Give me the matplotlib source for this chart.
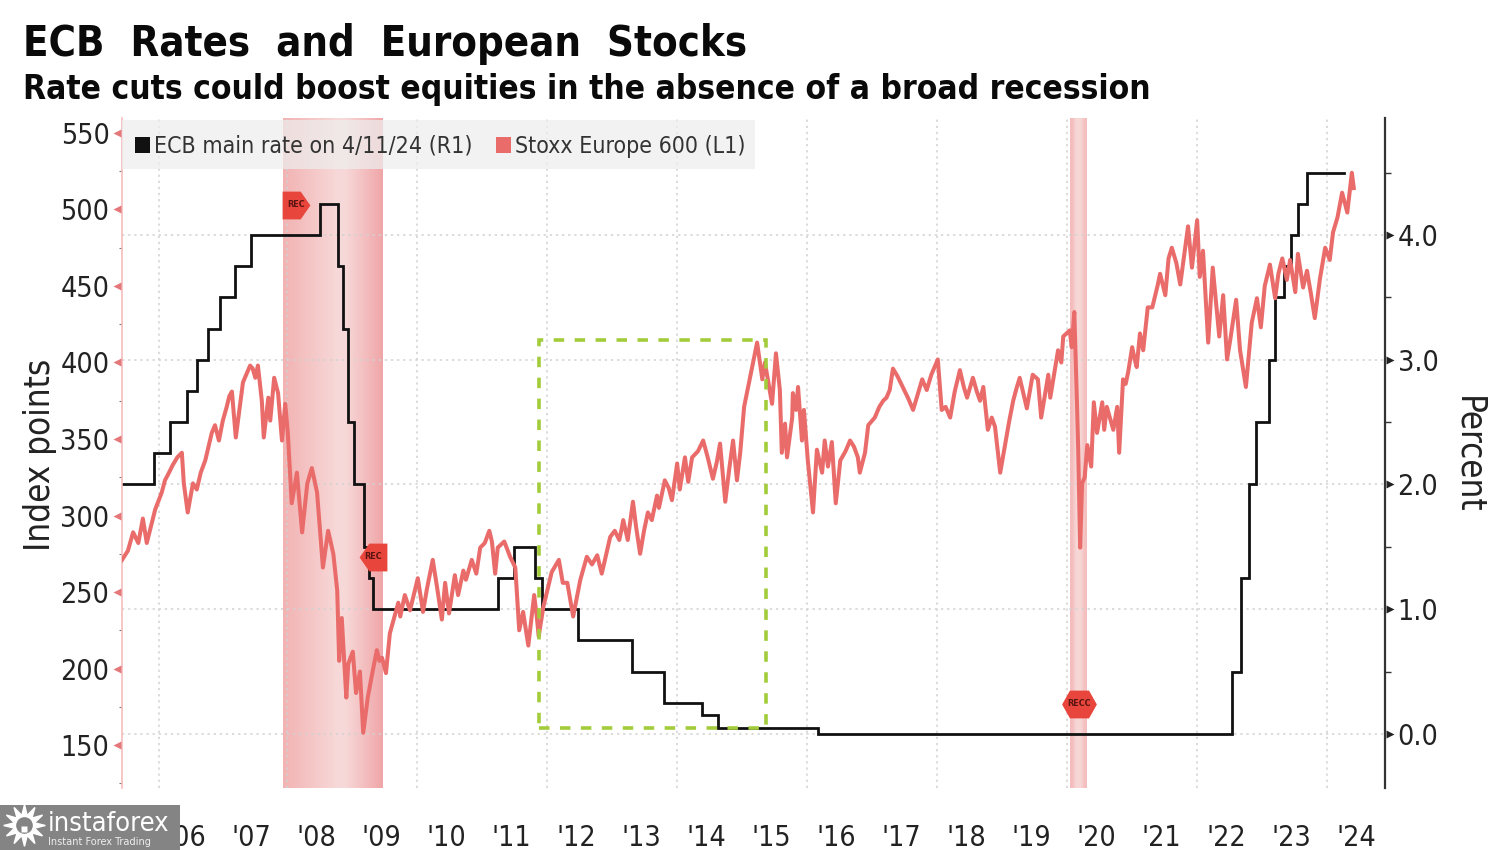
import numpy as np
import matplotlib
matplotlib.use('Agg')
import matplotlib.pyplot as plt
from matplotlib.lines import Line2D
from matplotlib.patches import Rectangle
from matplotlib.transforms import offset_copy

# ---------- data ----------
stoxx_years = [
    2005.47, 2005.56, 2005.64, 2005.72, 2005.79, 2005.85, 2005.98, 2006.08, 2006.13, 2006.25,
    2006.39, 2006.42, 2006.48, 2006.56, 2006.62, 2006.75, 2006.85, 2006.90, 2006.96, 2007.08,
    2007.16, 2007.22, 2007.33, 2007.44, 2007.52, 2007.56, 2007.62, 2007.65, 2007.72, 2007.75,
    2007.81, 2007.87, 2007.93, 2007.98, 2008.02, 2008.08, 2008.16, 2008.24, 2008.32, 2008.39,
    2008.47, 2008.56, 2008.64, 2008.72, 2008.78, 2008.81, 2008.85, 2008.92, 2008.95, 2009.02,
    2009.07, 2009.13, 2009.18, 2009.25, 2009.39, 2009.47, 2009.53, 2009.59, 2009.72, 2009.75,
    2009.82, 2009.90, 2010.02, 2010.10, 2010.25, 2010.39, 2010.44, 2010.50, 2010.59, 2010.64,
    2010.72, 2010.76, 2010.85, 2010.92, 2010.98, 2011.12, 2011.21, 2011.25, 2011.35, 2011.44,
    2011.52, 2011.58, 2011.64, 2011.72, 2011.81, 2011.85, 2011.88, 2011.95, 2012.08, 2012.19,
    2012.25, 2012.32, 2012.41, 2012.52, 2012.62, 2012.78, 2012.85, 2012.98, 2013.12, 2013.18,
    2013.25, 2013.33, 2013.44, 2013.56, 2013.62, 2013.70, 2013.73, 2013.82, 2013.93, 2014.01,
    2014.05, 2014.13, 2014.18, 2014.24, 2014.41, 2014.56, 2014.67, 2014.75, 2014.87, 2014.93,
    2014.98, 2015.04, 2015.13, 2015.24, 2015.32, 2015.36, 2015.47, 2015.53, 2015.59, 2015.62,
    2015.67, 2015.70, 2015.78, 2015.79, 2015.84, 2015.87, 2015.93, 2015.96, 2016.02, 2016.10,
    2016.16, 2016.24, 2016.28, 2016.33, 2016.39, 2016.45, 2016.52, 2016.67, 2016.79, 2016.82,
    2016.90, 2016.95, 2017.05, 2017.18, 2017.28, 2017.33, 2017.48, 2017.64, 2017.78, 2017.85,
    2018.02, 2018.08, 2018.21, 2018.36, 2018.47, 2018.56, 2018.67, 2018.72, 2018.79, 2018.90,
    2018.98, 2019.18, 2019.28, 2019.39, 2019.48, 2019.56, 2019.61, 2019.72, 2019.75, 2019.82,
    2019.87, 2019.92, 2019.95, 2020.05, 2020.08, 2020.12, 2020.16, 2020.18, 2020.21, 2020.24,
    2020.28, 2020.32, 2020.38, 2020.42, 2020.47, 2020.55, 2020.58, 2020.62, 2020.72, 2020.78,
    2020.81, 2020.87, 2020.95, 2021.01, 2021.08, 2021.13, 2021.18, 2021.25, 2021.36, 2021.44,
    2021.52, 2021.62, 2021.75, 2021.87, 2021.93, 2022.01, 2022.05, 2022.10, 2022.18, 2022.25,
    2022.35, 2022.41, 2022.47, 2022.52, 2022.61, 2022.67, 2022.76, 2022.85, 2022.93, 2022.99,
    2023.13, 2023.21, 2023.32, 2023.39, 2023.44, 2023.52, 2023.56, 2023.64, 2023.70, 2023.82,
    2023.98, 2024.05, 2024.10, 2024.24, 2024.32, 2024.39, 2024.42,
]
stoxx_vals = [
    271, 277, 289, 282, 298, 282, 304, 315, 323, 333,
    341, 321, 302, 321, 317, 336, 354, 359, 349, 371,
    381, 351, 387, 398, 390, 398, 375, 351, 377, 362,
    390, 380, 349, 373, 354, 308, 328, 289, 321, 331,
    315, 266, 290, 275, 251, 205, 233, 181, 203, 211,
    184, 198, 158, 181, 212, 207, 197, 223, 243, 234,
    248, 238, 259, 237, 271, 232, 256, 236, 261, 248,
    264, 258, 271, 262, 279, 290, 262, 279, 283, 273,
    266, 225, 237, 215, 248, 234, 221, 240, 263, 271,
    256, 256, 234, 258, 273, 274, 262, 286, 284, 297,
    284, 309, 275, 302, 297, 313, 305, 323, 310, 334,
    317, 338, 322, 338, 349, 324, 347, 309, 349, 323,
    341, 371, 390, 413, 389, 400, 373, 406, 382, 341,
    360, 338, 364, 380, 369, 384, 349, 369, 336, 302,
    343, 328, 349, 332, 348, 308, 336, 349, 338, 328,
    341, 359, 364, 375, 382, 396, 384, 369, 389, 382,
    402, 369, 364, 395, 377, 390, 375, 384, 356, 358,
    328, 375, 390, 370, 392, 389, 364, 392, 377, 395,
    408, 400, 417, 421, 410, 433, 375, 343, 279, 321,
    325, 346, 332, 374, 354, 374, 356, 371, 356, 371,
    341, 389, 394, 410, 397, 419, 408, 436, 443, 458,
    444, 475, 451, 489, 462, 493, 456, 473, 413, 462,
    417, 444, 402, 415, 441, 408, 384, 426, 442, 423,
    464, 442, 468, 454, 467, 446, 471, 449, 460, 429,
    475, 467, 485, 511, 498, 524, 514,
]

# second pass over the long stretches of the same line
stoxx_extra_years = [
    2006.18, 2006.32, 2006.68, 2006.80, 2007.02, 2007.12, 2007.38, 2007.48, 2009.32, 2009.43,
    2010.16, 2010.32, 2011.05, 2011.16, 2012.70, 2012.92, 2013.05, 2013.15, 2013.38, 2013.50,
    2013.88, 2014.33, 2014.48, 2014.62, 2014.81, 2016.60, 2016.73, 2017.12, 2017.23, 2017.40,
    2017.56, 2017.71, 2017.92, 2018.14, 2018.28, 2018.42, 2018.62, 2018.85, 2019.05, 2019.12,
    2019.23, 2020.91, 2021.05, 2021.32, 2021.40, 2021.57, 2021.69, 2021.81, 2023.05, 2023.26,
    2023.76, 2023.90, 2024.17,
]
stoxx_extra_vals = [
    327, 338, 328, 345, 362, 378, 392, 396, 197, 205,
    252, 252, 282, 283, 268, 275, 290, 290, 292, 290,
    318, 342, 338, 335, 330, 342, 345, 371, 377, 391,
    377, 379, 392, 371, 381, 384, 381, 364, 345, 362,
    383, 386, 402, 436, 450, 468, 465, 470, 450, 458,
    445, 455, 495,
]

rate_years = [
    2005.47, 2005.96, 2006.21, 2006.47, 2006.62, 2006.79, 2006.98, 2007.21, 2007.45, 2008.52,
    2008.79, 2008.87, 2008.95, 2009.04, 2009.19, 2009.27, 2009.33, 2011.25, 2011.50, 2011.82,
    2011.93, 2012.48, 2013.32, 2013.81, 2014.39, 2014.64, 2016.18, 2022.55, 2022.68, 2022.81,
    2022.92, 2023.12, 2023.21, 2023.35, 2023.45, 2023.56, 2023.70, 2024.27,
]
rate_vals = [
    2.0, 2.25, 2.5, 2.75, 3.0, 3.25, 3.5, 3.75, 4.0, 4.25,
    3.75, 3.25, 2.5, 2.0, 1.5, 1.25, 1.0, 1.25, 1.5, 1.25,
    1.0, 0.75, 0.5, 0.25, 0.15, 0.05, 0.0, 0.5, 1.25, 2.0,
    2.5, 3.0, 3.5, 3.75, 4.0, 4.25, 4.5, 4.5,
]

year_labels = ["'%02d" % y for y in range(6, 25)]
label_years = [2006.46 + i for i in range(19)]
grid_years = [2006.04, 2008, 2010, 2012, 2014, 2016, 2018, 2020, 2022, 2024]
left_ticks = [150, 200, 250, 300, 350, 400, 450, 500, 550]
left_minor = [125, 175, 225, 275, 325, 375, 425, 475, 525]
right_ticks = [0.0, 1.0, 2.0, 3.0, 4.0]
right_minor = [0.5, 1.5, 2.5, 3.5, 4.5]

recessions = [(2007.946, 2009.484), (2020.05, 2020.31)]
rec_x = [2008.15, 2009.33, 2020.19]
rec_y = [503, 273, 177]
box_years = [2011.88, 2015.38]
box_vals = [161, 414.7]

# ---------- colours ----------
c_stoxx = '#E96C6B'
c_rate = '#111111'
c_rec = '#E8453C'
c_green = '#A3CC3A'
c_grid = '#D2D2D2'

plt.rcParams['font.family'] = ['DejaVu Sans']
plt.rcParams['font.stretch'] = 'condensed'

W, H = 1500, 850
fig = plt.figure(figsize=(W / 100, H / 100), dpi=100, facecolor='white')


def fx(px):
    return px / W


def fy(py):
    return 1 - py / H


rect = [fx(122), fy(788), fx(1385) - fx(122), fy(118) - fy(788)]
ax2 = fig.add_axes(rect, zorder=1)   # right axis, under the stocks line
ax = fig.add_axes(rect, zorder=2)
ax.patch.set_visible(False)

xlim = (2005.469, 2024.9)
ax.set_xlim(xlim)
ax2.set_xlim(xlim)
ax.set_ylim(121.9, 559.8)
ax2.set_ylim(-0.433, 4.938)

# ---------- recession bands, darker at the edges ----------
t = np.linspace(0, 1, 200)
edge_l = np.array([0.95, 0.70, 0.70])
mid = np.array([0.97, 0.85, 0.85])
edge_r = np.array([0.94, 0.65, 0.66])
w1 = np.clip(t / 0.55, 0, 1)[:, None]
w2 = np.clip((t - 0.62) / 0.38, 0, 1)[:, None]
grad = edge_l * (1 - w1) + mid * w1
grad = grad * (1 - w2) + edge_r * w2
ax2.imshow(grad[None, :, :], extent=(recessions[0][0], recessions[0][1], -0.433, 4.938),
           aspect='auto', zorder=1)
grad2 = np.array([[[0.96, 0.74, 0.74], [0.97, 0.84, 0.84], [0.97, 0.84, 0.84], [0.96, 0.75, 0.75]]])
ax2.imshow(grad2, extent=(recessions[1][0], recessions[1][1], -0.433, 4.938),
           aspect='auto', interpolation='bilinear', zorder=1)
ax2.set_xlim(xlim)
ax2.set_ylim(-0.433, 4.938)

# ---------- grid ----------
for y in right_ticks:
    ax2.axhline(y, color=c_grid, lw=1.1, ls=(0, (1.5, 2.5)), zorder=2)
for x in grid_years:
    ax2.axvline(x, color=c_grid, lw=1.1, ls=(0, (1.5, 2.5)), zorder=2)

# ---------- lines ----------
ax2.plot(rate_years, rate_vals, drawstyle='steps-post', color=c_rate, lw=2.0, zorder=3,
         solid_joinstyle='miter')
order = np.argsort(stoxx_years + stoxx_extra_years)
stoxx_x = np.array(stoxx_years + stoxx_extra_years)[order]
stoxx_y = np.array(stoxx_vals + stoxx_extra_vals)[order]
ax.plot(stoxx_x, stoxx_y, color=c_stoxx, lw=2.9, zorder=3, solid_joinstyle='round')

# dashed green box
ax.add_patch(Rectangle((box_years[0], box_vals[0]), box_years[1] - box_years[0],
                       box_vals[1] - box_vals[0], fill=False, ec=c_green, lw=2.6,
                       ls=(0, (2.9, 2.9)), zorder=4))

# ---------- REC flags ----------
flag_r = [(-1, 1), (0.3, 1), (1, 0), (0.3, -1), (-1, -1)]
flag_l = [(1, 1), (-0.3, 1), (-1, 0), (-0.3, -1), (1, -1)]
hexa = [(-1, 0), (-0.55, 0.8), (0.55, 0.8), (1, 0), (0.55, -0.8), (-0.55, -0.8)]
shapes = [flag_r, flag_l, hexa]
sizes = [20, 20, 25]
rec_texts = ['REC', 'REC', 'RECC']
for i in range(3):
    ax.plot([rec_x[i]], [rec_y[i]], marker=shapes[i], ms=sizes[i], mfc=c_rec, mec=c_rec, mew=0,
            ls='none', zorder=5)
    ax.text(rec_x[i], rec_y[i], rec_texts[i], fontsize=6.5, fontweight='bold', color='#5a1512',
            ha='center', va='center', zorder=6)

# ---------- axes furniture ----------
for s in ['top', 'bottom', 'left', 'right']:
    ax.spines[s].set_visible(False)
    ax2.spines[s].set_visible(False)
ax.spines['left'].set_visible(True)
ax.spines['left'].set_color('#F5BDBD')
ax.spines['left'].set_linewidth(1.2)
ax.spines['right'].set_visible(True)
ax.spines['right'].set_color('#333333')
ax.spines['right'].set_linewidth(1.6)

ax.yaxis.set_ticks_position('left')
ax.set_yticks(left_ticks)
ax.set_yticks(left_minor, minor=True)
ax.tick_params(axis='y', which='major', length=0, pad=9, labelsize=20.5, labelcolor='#222222')
ax.tick_params(axis='y', which='minor', length=2.5, width=0.8, color='#777777')
ax.set_xticks(label_years)
ax.set_xticklabels(year_labels)
ax.tick_params(axis='x', length=0, pad=26, labelsize=20.5, labelcolor='#222222')
ax.xaxis.set_ticks_position('bottom')

ax2.yaxis.tick_right()
ax2.set_xticks([])
ax2.set_yticks(right_ticks)
ax2.set_yticklabels(['%.1f' % v for v in right_ticks])
ax2.set_yticks(right_minor, minor=True)
ax2.tick_params(axis='y', which='major', length=0, pad=9, labelsize=20.5, labelcolor='#222222')
ax2.tick_params(axis='y', which='minor', length=4, width=1, color='#333333')

# triangle ticks sitting outside the spines
left_tr = offset_copy(ax.get_yaxis_transform(), fig=fig, x=-3.5, y=0, units='points')
ax.plot([0] * len(left_ticks), left_ticks, transform=left_tr, ls='none', marker='<', ms=5.5,
        mfc='#E4777A', mec='none', clip_on=False, zorder=6)
right_tr = offset_copy(ax2.get_yaxis_transform(), fig=fig, x=3.5, y=0, units='points')
ax2.plot([1] * len(right_ticks), right_ticks, transform=right_tr, ls='none', marker='>', ms=5.5,
         mfc='#222222', mec='none', clip_on=False, zorder=6)

fig.text(fx(40), fy(455), 'Index points', rotation=90, ha='center', va='center', fontsize=25,
         color='#222222')
fig.text(fx(1468), fy(455), 'Percent', rotation=270, ha='center', va='center', fontsize=25,
         color='#222222')

# ---------- legend ----------
fig.add_artist(Rectangle((fx(122), fy(169)), fx(755) - fx(122), fy(120) - fy(169),
                         transform=fig.transFigure, fc='#EEEEEE', ec='none', alpha=0.72, zorder=5))
fig.add_artist(Rectangle((fx(135), fy(153)), fx(15), fy(137) - fy(153), transform=fig.transFigure,
                         fc='#111111', ec='none', zorder=6))
fig.add_artist(Rectangle((fx(496), fy(153)), fx(15), fy(137) - fy(153), transform=fig.transFigure,
                         fc=c_stoxx, ec='none', zorder=6))
fig.text(fx(154), fy(146), 'ECB main rate on 4/11/24 (R1)', fontsize=16.6, color='#333333',
         va='center', zorder=7)
fig.text(fx(515), fy(146), 'Stoxx Europe 600 (L1)', fontsize=16.6, color='#333333', va='center',
         zorder=7)

# ---------- titles ----------
fig.text(fx(23), fy(44), 'ECB  Rates  and  European  Stocks', fontsize=30, fontweight='bold',
         color='#0a0a0a', va='center')
fig.text(fx(23), fy(90), 'Rate cuts could boost equities in the absence of a broad recession',
         fontsize=24, fontweight='bold', color='#0a0a0a', va='center')

# ---------- watermark ----------
fig.add_artist(Rectangle((0, fy(850)), fx(180), fy(805) - fy(850), transform=fig.transFigure,
                         fc='#848484', ec='none', zorder=8))
fig.add_artist(Line2D([fx(24)], [fy(825)], transform=fig.transFigure, marker=(12, 1, 0), ms=30,
                      mfc='white', mec='white', ls='none', zorder=9))
fig.add_artist(Line2D([fx(24)], [fy(825)], transform=fig.transFigure, marker='o', ms=12,
                      mfc='#848484', mec='none', ls='none', zorder=10))
fig.add_artist(Line2D([fx(24)], [fy(829)], transform=fig.transFigure, marker='s', ms=5,
                      mfc='white', mec='none', ls='none', zorder=11))
fig.text(fx(48), fy(824), 'instaforex', fontsize=19.5, color='white', va='center', zorder=9)
fig.text(fx(48), fy(842), 'Instant Forex Trading', fontsize=7.8, color='#eeeeee', va='center', zorder=9)

fig.savefig('out.png', dpi=100)
